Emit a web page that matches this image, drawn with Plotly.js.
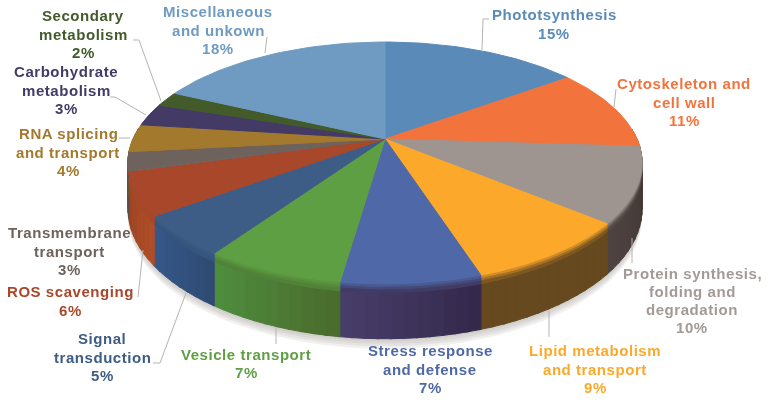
<!DOCTYPE html>
<html><head><meta charset="utf-8">
<script src="https://cdn.plot.ly/plotly-3.0.1.min.js"></script>
<style>html,body{margin:0;padding:0;background:#fff}#c{width:768px;height:402px}
.scatterlayer{filter:blur(0.7px)}
.annotation-text{letter-spacing:0.55px}
.annotation{filter:blur(0.35px)}</style></head><body><div id="c"></div>
<script>
// Data, clockwise from the top of the pie. Slice sizes are read from the drawn wedges; labels show them rounded.
const categories = ["Phototsynthesis","Cytoskeleton and<br>cell wall","Protein synthesis,<br>folding and<br>degradation","Lipid metabolism<br>and transport","Stress response<br>and defense","Vesicle transport","Signal<br>transduction","ROS scavenging","Transmembrane<br>transport","RNA splicing<br>and transport","Carbohydrate<br>metabolism","Secondary<br>metabolism","Miscellaneous<br>and unkown"];
const values = [15,11,10,9,7.3,7.3,5.4,5.7,2.6,3.7,3,2,18];
// Styles
const topColors = ["#5a8ab8","#f2743c","#9e9490","#fca82b","#4f69a8","#5f9f43","#3d5d86","#a8472a","#6e625c","#a3792d","#433a66","#435b2b","#6f9bc2"];
const sideStart = ["#3a4f68","#5a3524","#3e3331","#66491f","#33284a","#4a6a2c","#2f4a72","#b04e28","#5a4c46","#7a5a20","#332c4e","#324520","#4f7090"];
const sideEnd   = ["#3a4f68","#6a3a22","#4f4442","#66491f","#483e6a","#4f8f3f","#36598a","#984424","#5a4c46","#7a5a20","#332c4e","#324520","#4f7090"];
const textColors = ["#5a8ab8","#f2743c","#a39a96","#fca82b","#4f69a8","#5f9f43","#3d5d86","#a8472a","#6e625c","#a3792d","#433a66","#435b2b","#6f9bc2"];
const labelX = [554,684,692,595,430,246,102,70,69,68,66,83,218];
const labelY = [24,102,300.5,369,369,363.5,357,301,251,152,90,34,30];
const leaders = [
  [[489,483,482],[19,19,50]],
  [[616,614],[89,107]],
  [[632,632],[238,263]],
  [[549,549],[311,337]],
  [[276,276],[328,344]],
  [[153,160,186],[363,363,293]],
  [[138,143],[297,250]],
  [[119,130],[138,138]],
  [[110,115,146],[97,97,115]],
  [[133,139,161],[40,40,101]],
  [[267,265],[37,53]]
];
// Perspective model of the disc
const CX=385, CY=139, A=252, B=116.2, K=0.198, DEPTH=44, LINE=18.3;
function rim(deg, extra){
  const t=deg*Math.PI/180, u=Math.sin(t), v=Math.cos(t), w=1+K*v;
  return [CX+A*u/w, CY-B*v/w+(extra||0)/w];
}
const hexRgb=s=>[1,3,5].map(i=>parseInt(s.substr(i,2),16));
const toHex=c=>"#"+c.map(x=>Math.round(x).toString(16).padStart(2,"0")).join("");
function mix(a,b,f){
  const x=hexRgb(a),y=hexRgb(b);
  return toHex(x.map((c,i)=>c+(y[i]-c)*f));
}
function poly(xs,ys,color,op){
  return {type:"scatter",mode:"lines",x:xs,y:ys,fill:"toself",fillcolor:color,
    line:{color:color,width:op?0:1},opacity:op||1,hoverinfo:"skip",showlegend:false};
}
function band(a0,a1,d0,d1,color){
  const xs=[],ys=[],n=Math.max(3,Math.ceil((a1-a0)/2));
  for(let k=0;k<=n;k++){const p=rim(a0+(a1-a0)*k/n,d0);xs.push(p[0]);ys.push(p[1]);}
  for(let k=n;k>=0;k--){const p=rim(a0+(a1-a0)*k/n,d1);xs.push(p[0]);ys.push(p[1]);}
  xs.push(xs[0]);ys.push(ys[0]);
  return poly(xs,ys,color);
}
const total=values.reduce((a,b)=>a+b,0);
const traces=[];
// soft shadow under the disc
[8,6,4,2].forEach(s=>{
  const xs=[],ys=[];
  for(let d=0;d<=360;d+=3){const p=rim(d,DEPTH+s);xs.push(p[0]);ys.push(p[1]);}
  traces.push(poly(xs,ys,"#8a8078",0.12));
});
let acc=0; const ranges=values.map(v=>{const a=acc/total*360;acc+=v;return [a,acc/total*360];});
const front=ranges.map((r,i)=>i).filter(i=>ranges[i][1]>88&&ranges[i][0]<272);
// side bodies, shaded along each slice
front.forEach(i=>{
  const r0=Math.max(ranges[i][0],85), r1=Math.min(ranges[i][1],275);
  const n=Math.max(2,Math.round((r1-r0)/2.5));
  for(let s=0;s<n;s++){
    const a0=r0+(r1-r0)*s/n, a1=r0+(r1-r0)*(s+1)/n;
    traces.push(band(a0,a1+0.4,0,DEPTH,mix(sideStart[i],sideEnd[i],(s+0.5)/n)));
  }
});
// bevel under the rim of each slice
const bevel=[[4,7,0.16],[2,4,0.42],[0,2,0.72]];
front.forEach(i=>{
  const r0=Math.max(ranges[i][0],85), r1=Math.min(ranges[i][1],275);
  const side=mix(sideStart[i],sideEnd[i],0.5);
  bevel.forEach(b=>traces.push(band(r0,r1,b[0],b[1],mix(side,topColors[i],b[2]))));
});
// top faces
ranges.forEach((r,i)=>{
  const xs=[CX],ys=[CY];
  for(let k=0;k<=40;k++){const p=rim(r[0]+(r[1]-r[0])*k/40);xs.push(p[0]);ys.push(p[1]);}
  xs.push(CX);ys.push(CY);
  traces.push(poly(xs,ys,topColors[i]));
});
const annotations=[];
categories.forEach((c,i)=>{
  const lines=c.split("<br>").concat(Math.round(values[i])+"%");
  lines.forEach((t,j)=>annotations.push({
    x:labelX[i],y:labelY[i]+(j-(lines.length-1)/2)*LINE,xref:"x",yref:"y",xanchor:"center",yanchor:"middle",showarrow:false,
    text:"<b>"+t+"</b>",
    font:{family:"Liberation Sans, Arial, sans-serif",size:15,color:textColors[i]}
  }));
});
const shapes=leaders.map(l=>({type:"path",xref:"x",yref:"y",
  path:l[0].map((x,j)=>(j?"L":"M")+x+","+l[1][j]).join(" "),line:{color:"#b4b4b4",width:1}}));
const hidden={visible:false,fixedrange:true};
Plotly.newPlot("c",traces,{
  width:768,height:402,margin:{l:0,r:0,t:0,b:0},paper_bgcolor:"#fff",plot_bgcolor:"#fff",showlegend:false,
  xaxis:Object.assign({range:[0,768]},hidden),yaxis:Object.assign({range:[402,0]},hidden),
  annotations,shapes
},{displayModeBar:false,staticPlot:true});
</script></body></html>
